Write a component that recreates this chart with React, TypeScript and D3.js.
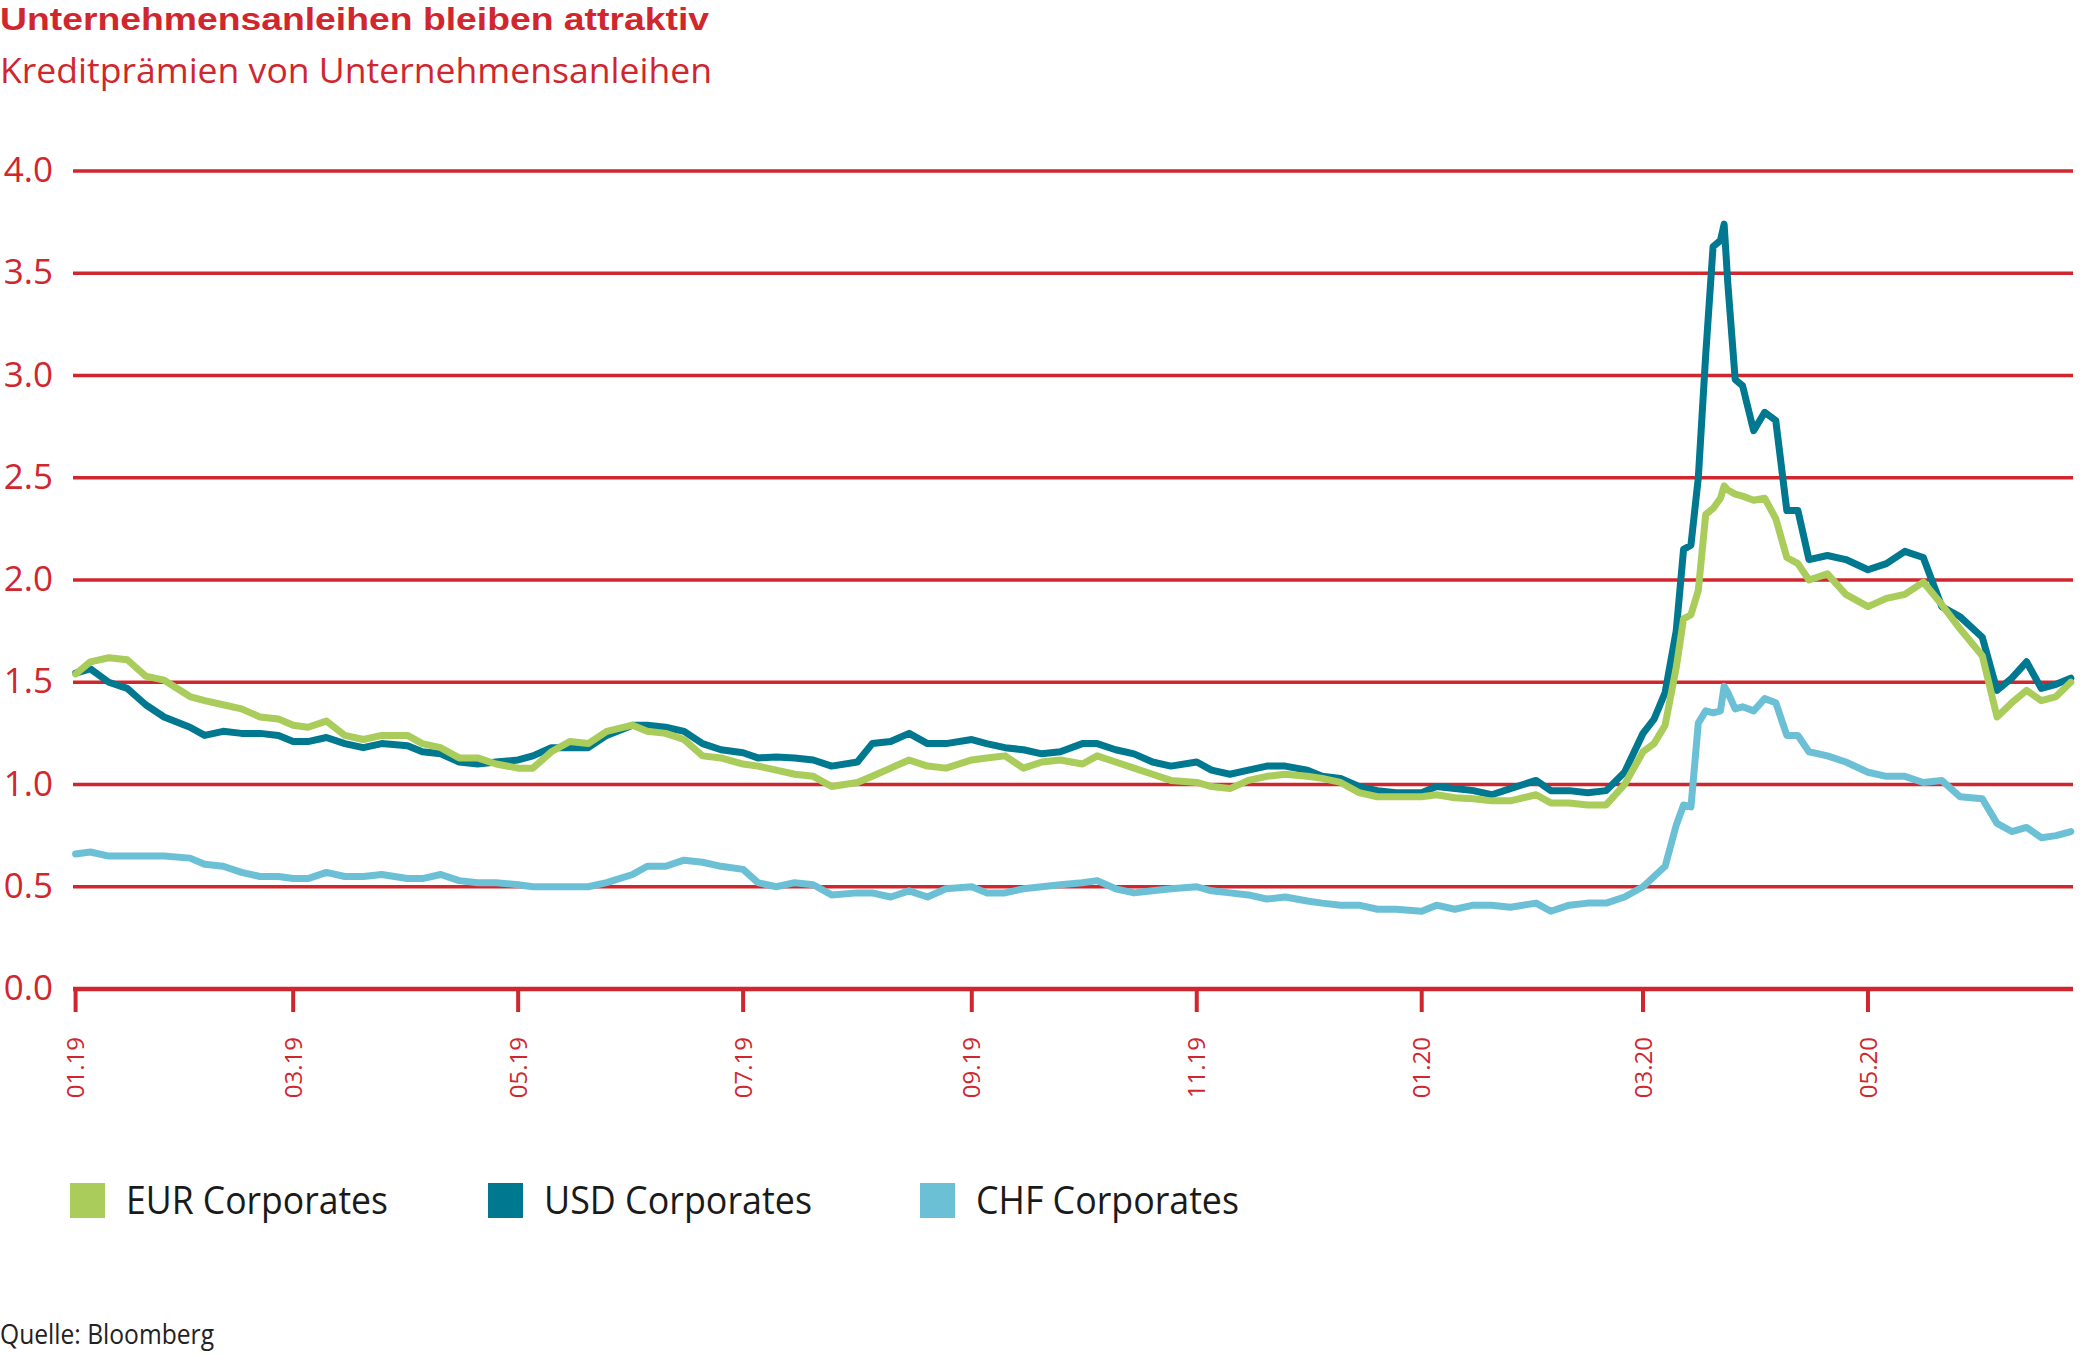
import React from 'react'
import * as d3 from 'd3'

// observation dates shared by all three series
const dates = [
  '2019-01-01', '2019-01-05', '2019-01-10', '2019-01-15', '2019-01-20', '2019-01-25',
  '2019-02-01', '2019-02-05', '2019-02-10', '2019-02-15', '2019-02-20', '2019-02-25',
  '2019-03-01', '2019-03-05', '2019-03-10', '2019-03-15', '2019-03-20', '2019-03-25',
  '2019-04-01', '2019-04-05', '2019-04-10', '2019-04-15', '2019-04-20', '2019-04-25',
  '2019-05-01', '2019-05-05', '2019-05-10', '2019-05-15', '2019-05-20', '2019-05-25',
  '2019-06-01', '2019-06-05', '2019-06-10', '2019-06-15', '2019-06-20', '2019-06-25',
  '2019-07-01', '2019-07-05', '2019-07-10', '2019-07-15', '2019-07-20', '2019-07-25',
  '2019-08-01', '2019-08-05', '2019-08-10', '2019-08-15', '2019-08-20', '2019-08-25',
  '2019-09-01', '2019-09-05', '2019-09-10', '2019-09-15', '2019-09-20', '2019-09-25',
  '2019-10-01', '2019-10-05', '2019-10-10', '2019-10-15', '2019-10-20', '2019-10-25',
  '2019-11-01', '2019-11-05', '2019-11-10', '2019-11-15', '2019-11-20', '2019-11-25',
  '2019-12-01', '2019-12-05', '2019-12-10', '2019-12-15', '2019-12-20', '2019-12-25',
  '2020-01-01', '2020-01-05', '2020-01-10', '2020-01-15', '2020-01-20', '2020-01-25',
  '2020-02-01', '2020-02-05', '2020-02-10', '2020-02-15', '2020-02-20', '2020-02-25',
  '2020-03-01', '2020-03-04', '2020-03-07', '2020-03-10', '2020-03-12',
  '2020-03-14', '2020-03-16', '2020-03-18', '2020-03-20', '2020-03-22',
  '2020-03-23', '2020-03-24', '2020-03-26', '2020-03-28', '2020-03-31',
  '2020-04-03', '2020-04-06', '2020-04-09', '2020-04-12', '2020-04-15',
  '2020-04-20', '2020-04-25',
  '2020-05-01', '2020-05-06', '2020-05-11', '2020-05-16', '2020-05-21', '2020-05-26',
  '2020-06-01', '2020-06-05', '2020-06-09', '2020-06-13', '2020-06-17', '2020-06-21',
  '2020-06-25',
]

const eurValues = [
  1.54, 1.6, 1.62, 1.61, 1.53, 1.51,
  1.43, 1.41, 1.39, 1.37, 1.33, 1.32,
  1.29, 1.28, 1.31, 1.24, 1.22, 1.24,
  1.24, 1.2, 1.18, 1.13, 1.13, 1.1,
  1.08, 1.08, 1.16, 1.21, 1.2, 1.26,
  1.29, 1.26, 1.25, 1.22, 1.14, 1.13,
  1.1, 1.09, 1.07, 1.05, 1.04, 0.99,
  1.01, 1.04, 1.08, 1.12, 1.09, 1.08,
  1.12, 1.13, 1.14, 1.08, 1.11, 1.12,
  1.1, 1.14, 1.11, 1.08, 1.05, 1.02,
  1.01, 0.99, 0.98, 1.02, 1.04, 1.05,
  1.04, 1.03, 1.01, 0.96, 0.94, 0.94,
  0.94, 0.95, 0.935, 0.93, 0.92, 0.92,
  0.95, 0.91, 0.91, 0.9, 0.9, 1.0,
  1.16, 1.2, 1.29, 1.57, 1.81,
  1.83, 1.95, 2.32, 2.35, 2.4,
  2.46, 2.44, 2.42, 2.41, 2.39,
  2.4, 2.3, 2.11, 2.08, 2.0,
  2.03, 1.93,
  1.87, 1.91, 1.93, 1.99, 1.88, 1.76,
  1.63, 1.33, 1.4, 1.46, 1.41, 1.43,
  1.5,
]

const usdValues = [
  1.545, 1.565, 1.5, 1.47, 1.39, 1.33,
  1.28, 1.24, 1.26, 1.25, 1.25, 1.24,
  1.21, 1.21, 1.23, 1.2, 1.18, 1.2,
  1.19, 1.16, 1.15, 1.11, 1.1, 1.11,
  1.12, 1.14, 1.18, 1.18, 1.18, 1.24,
  1.29, 1.29, 1.28, 1.26, 1.2, 1.17,
  1.155, 1.13, 1.135, 1.13, 1.12, 1.09,
  1.11, 1.2, 1.21, 1.25, 1.2, 1.2,
  1.22, 1.2, 1.18, 1.17, 1.15, 1.16,
  1.2, 1.2, 1.17, 1.15, 1.11, 1.09,
  1.11, 1.07, 1.05, 1.07, 1.09, 1.09,
  1.07, 1.04, 1.03, 0.99, 0.97, 0.96,
  0.96, 0.99, 0.98, 0.97, 0.95, 0.98,
  1.02, 0.97, 0.97, 0.96, 0.97, 1.06,
  1.25, 1.32, 1.45, 1.75, 2.15,
  2.17, 2.5, 3.1, 3.63, 3.66,
  3.74, 3.45, 2.98, 2.95, 2.73,
  2.82, 2.78, 2.34, 2.34, 2.1,
  2.12, 2.1,
  2.05, 2.08, 2.14, 2.11, 1.87, 1.82,
  1.72, 1.46, 1.52, 1.6, 1.47, 1.49,
  1.52,
]

const chfValues = [
  0.66, 0.67, 0.65, 0.65, 0.65, 0.65,
  0.64, 0.61, 0.6, 0.57, 0.55, 0.55,
  0.54, 0.54, 0.57, 0.55, 0.55, 0.56,
  0.54, 0.54, 0.56, 0.53, 0.52, 0.52,
  0.51, 0.5, 0.5, 0.5, 0.5, 0.52,
  0.56, 0.6, 0.6, 0.63, 0.62, 0.6,
  0.585, 0.52, 0.5, 0.52, 0.51, 0.46,
  0.47, 0.47, 0.45, 0.48, 0.45, 0.49,
  0.5, 0.47, 0.47, 0.49, 0.5, 0.51,
  0.52, 0.53, 0.49, 0.47, 0.48, 0.49,
  0.5, 0.48, 0.47, 0.46, 0.44, 0.45,
  0.43, 0.42, 0.41, 0.41, 0.39, 0.39,
  0.38, 0.41, 0.39, 0.41, 0.41, 0.4,
  0.42, 0.38, 0.41, 0.42, 0.42, 0.45,
  0.5, 0.55, 0.6, 0.8, 0.9,
  0.89, 1.3, 1.36, 1.35, 1.36,
  1.48, 1.45, 1.37, 1.38, 1.36,
  1.42, 1.4, 1.24, 1.24, 1.16,
  1.14, 1.11,
  1.06, 1.04, 1.04, 1.01, 1.02, 0.94,
  0.93, 0.81, 0.77, 0.79, 0.74, 0.75,
  0.77,
]

const seriesNames = ['EUR Corporates', 'USD Corporates', 'CHF Corporates']
const yTicks = [0, 0.5, 1, 1.5, 2, 2.5, 3, 3.5, 4]

const RED = '#d0262d'
const colors: Record<string, string> = {
  'EUR Corporates': '#a9cc5b',
  'USD Corporates': '#00788f',
  'CHF Corporates': '#6cc0d5',
}
const FONT = '"Open Sans", "Noto Sans", sans-serif'

const parse = d3.timeParse('%Y-%m-%d')

const App = () => {
  const width = 2081
  const height = 1354

  const x = d3
    .scaleTime()
    .domain([parse('2019-01-01') as Date, parse('2020-06-25') as Date])
    .range([75.6, 2070.8])
  const y = d3.scaleLinear().domain([0, 4]).range([989, 171])

  const xTicks = d3.timeMonth.every(2)!.range(parse('2019-01-01') as Date, parse('2020-06-01') as Date)
  const fmt = d3.timeFormat('%m.%y')

  // drawing order: CHF underneath, EUR on top
  const series = [
    { name: 'CHF Corporates', values: chfValues },
    { name: 'USD Corporates', values: usdValues },
    { name: 'EUR Corporates', values: eurValues },
  ]

  const line = d3
    .line<[Date, number]>()
    .x((d) => x(d[0]))
    .y((d) => y(d[1]))

  const legendX = [70, 488, 920]
  const legendW = [262, 268, 263]

  return (
    <div style={{ position: 'absolute', left: 0, top: 0 }}>
      <svg width={width} height={height} style={{ display: 'block', background: '#fff' }}>
        <text x={0} y={30} fill={RED} fontFamily='"Liberation Sans", Arial, sans-serif' fontWeight={700}
          fontSize={32} textLength={709} lengthAdjust="spacingAndGlyphs">
          Unternehmensanleihen bleiben attraktiv
        </text>
        <text x={0} y={83} fill={RED} fontFamily={FONT} fontSize={34}
          textLength={712} lengthAdjust="spacingAndGlyphs">
          Kreditprämien von Unternehmensanleihen
        </text>

        {/* horizontal grid */}
        {yTicks.map((t) => (
          <g key={t}>
            <line x1={73} x2={2073} y1={y(t)} y2={y(t)} stroke={RED}
              strokeWidth={t === 0 ? 4.5 : 3.5} />
            <text x={53} y={y(t) + 11} textAnchor="end" fill={RED} fontFamily={FONT} fontSize={35}>
              {t.toFixed(1)}
            </text>
          </g>
        ))}

        {/* x axis ticks */}
        {xTicks.map((d) => (
          <g key={+d} transform={`translate(${x(d)},0)`}>
            <line y1={y(0)} y2={1012} stroke={RED} strokeWidth={4} />
            <text transform="translate(0,1037) rotate(-90)" dy="0.36em" textAnchor="end"
              fill={RED} fontFamily={FONT} fontSize={24}>
              {fmt(d)}
            </text>
          </g>
        ))}

        {/* series */}
        {series.map((s) => (
          <path key={s.name}
            d={line(dates.map((d, i) => [parse(d) as Date, s.values[i]])) || ''}
            fill="none" stroke={colors[s.name]} strokeWidth={7}
            strokeLinejoin="round" strokeLinecap="round" />
        ))}

        {/* legend */}
        {seriesNames.map((n, i) => (
          <g key={n}>
            <rect x={legendX[i]} y={1183} width={35} height={35} fill={colors[n]} />
            <text x={legendX[i] + 56} y={1214} fill="#1a1a1a" fontFamily={FONT} fontSize={39}
              textLength={legendW[i]} lengthAdjust="spacingAndGlyphs">
              {n}
            </text>
          </g>
        ))}

        <text x={0} y={1344} fill="#222" fontFamily={FONT} fontSize={28}
          textLength={214} lengthAdjust="spacingAndGlyphs">
          Quelle: Bloomberg
        </text>
      </svg>
    </div>
  )
}

export default App
